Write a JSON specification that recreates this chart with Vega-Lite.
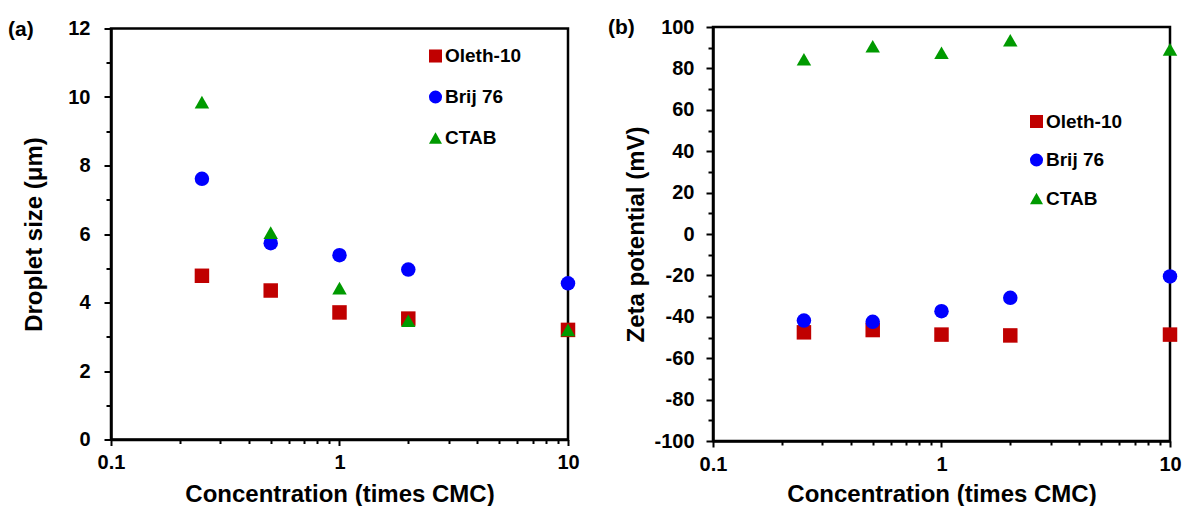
{
  "$schema": "https://vega.github.io/schema/vega-lite/v6.json",
  "background": "white",
  "padding": {"left": 6, "top": 15, "right": 5, "bottom": 0},
  "bounds": "flush",
  "spacing": 145,
  "center": true,
  "config": {
    "font": "Liberation Sans",
    "view": {"stroke": "black", "strokeWidth": 2.5},
    "axis": {
      "grid": false,
      "domainColor": "black",
      "domainWidth": 2.5,
      "tickColor": "black",
      "tickWidth": 2,
      "labelFont": "Liberation Sans",
      "labelFontSize": 20,
      "labelFontWeight": "bold",
      "labelColor": "black",
      "titleFont": "Liberation Sans",
      "titleFontSize": 24,
      "titleFontWeight": "bold",
      "titleColor": "black"
    },
    "legend": {
      "orient": "none",
      "title": null,
      "padding": 0,
      "labelFont": "Liberation Sans",
      "labelFontSize": 19,
      "labelFontWeight": "bold",
      "labelColor": "black",
      "symbolSize": 170,
      "symbolStrokeWidth": 0,
      "symbolOpacity": 1,
      "labelOffset": 0
    },
    "title": {
      "font": "Liberation Sans",
      "fontSize": 21,
      "fontWeight": "bold",
      "color": "black",
      "anchor": "start",
      "frame": "group",
      "orient": "top",
      "offset": 0,
      "baseline": "middle"
    }
  },
  "datasets": {
    "a": [
      {"conc": 0.25, "value": 4.78, "series": "Oleth-10"},
      {"conc": 0.5, "value": 4.35, "series": "Oleth-10"},
      {"conc": 1, "value": 3.71, "series": "Oleth-10"},
      {"conc": 2, "value": 3.53, "series": "Oleth-10"},
      {"conc": 10, "value": 3.2, "series": "Oleth-10"},
      {"conc": 0.25, "value": 7.61, "series": "Brij 76"},
      {"conc": 0.5, "value": 5.73, "series": "Brij 76"},
      {"conc": 1, "value": 5.38, "series": "Brij 76"},
      {"conc": 2, "value": 4.96, "series": "Brij 76"},
      {"conc": 10, "value": 4.56, "series": "Brij 76"},
      {"conc": 0.25, "value": 9.85, "series": "CTAB"},
      {"conc": 0.5, "value": 6.04, "series": "CTAB"},
      {"conc": 1, "value": 4.42, "series": "CTAB"},
      {"conc": 2, "value": 3.47, "series": "CTAB"},
      {"conc": 10, "value": 3.2, "series": "CTAB"}
    ],
    "b": [
      {"conc": 0.25, "value": -47.5, "series": "Oleth-10"},
      {"conc": 0.5, "value": -46.4, "series": "Oleth-10"},
      {"conc": 1, "value": -48.6, "series": "Oleth-10"},
      {"conc": 2, "value": -49.0, "series": "Oleth-10"},
      {"conc": 10, "value": -48.6, "series": "Oleth-10"},
      {"conc": 0.25, "value": -41.8, "series": "Brij 76"},
      {"conc": 0.5, "value": -42.4, "series": "Brij 76"},
      {"conc": 1, "value": -37.3, "series": "Brij 76"},
      {"conc": 2, "value": -30.8, "series": "Brij 76"},
      {"conc": 10, "value": -20.5, "series": "Brij 76"},
      {"conc": 0.25, "value": 84.4, "series": "CTAB"},
      {"conc": 0.5, "value": 90.7, "series": "CTAB"},
      {"conc": 1, "value": 87.6, "series": "CTAB"},
      {"conc": 2, "value": 93.6, "series": "CTAB"},
      {"conc": 10, "value": 89.2, "series": "CTAB"}
    ]
  },
  "resolve": {
    "scale": {"x": "independent", "y": "independent"},
    "axis": {"x": "independent", "y": "independent"},
    "legend": {"color": "independent", "shape": "independent"}
  },
  "hconcat": [
    {
      "width": 457,
      "height": 411,
      "title": {"text": "(a)", "dx": -103, "dy": 25},
      "data": {"name": "a"},
      "mark": {"type": "point", "filled": true, "opacity": 1, "size": 210, "strokeWidth": 0},
      "encoding": {
        "x": {
          "field": "conc", "type": "quantitative",
          "scale": {"type": "log", "domain": [0.1, 10], "nice": false},
          "axis": {
            "title": "Concentration (times CMC)",
            "values": [0.1, 0.2, 0.3, 0.4, 0.5, 0.6, 0.7, 0.8, 0.9, 1, 2, 3, 4, 5, 6, 7, 8, 9, 10],
            "labelExpr": "datum.value == 0.1 ? '0.1' : datum.value == 1 ? '1' : datum.value == 10 ? '10' : ''",
            "tickSize": {"condition": {"test": "datum.value == 0.1 || datum.value == 1 || datum.value == 10", "value": 6}, "value": 4},
            "labelPadding": 7,
            "titlePadding": 10,
            "labelFlush": false,
            "labelOverlap": false
          }
        },
        "y": {
          "field": "value", "type": "quantitative",
          "scale": {"domain": [0, 12], "nice": false, "zero": false},
          "axis": {
            "title": "Droplet size (μm)",
            "values": [0, 1, 2, 3, 4, 5, 6, 7, 8, 9, 10, 11, 12],
            "labelExpr": "datum.value % 2 == 0 ? datum.label : ''",
            "tickSize": {"condition": {"test": "datum.value % 2 == 0", "value": 7}, "value": 5},
            "labelPadding": 14,
            "titlePadding": 21,
            "labelOverlap": false,
            "labelFlush": false
          }
        },
        "color": {
          "field": "series", "type": "nominal",
          "scale": {"domain": ["Oleth-10", "Brij 76", "CTAB"], "range": ["#C00000", "#0000FF", "#009A00"]},
          "legend": {"legendX": 315, "legendY": 18, "rowPadding": 21}
        },
        "shape": {
          "field": "series", "type": "nominal",
          "scale": {"domain": ["Oleth-10", "Brij 76", "CTAB"], "range": ["square", "circle", "triangle-up"]},
          "legend": {"legendX": 315, "legendY": 18, "rowPadding": 21}
        }
      }
    },
    {
      "width": 457,
      "height": 414,
      "title": {"text": "(b)", "dx": -105, "dy": 25},
      "data": {"name": "b"},
      "mark": {"type": "point", "filled": true, "opacity": 1, "size": 210, "strokeWidth": 0},
      "encoding": {
        "x": {
          "field": "conc", "type": "quantitative",
          "scale": {"type": "log", "domain": [0.1, 10], "nice": false},
          "axis": {
            "title": "Concentration (times CMC)",
            "values": [0.1, 0.2, 0.3, 0.4, 0.5, 0.6, 0.7, 0.8, 0.9, 1, 2, 3, 4, 5, 6, 7, 8, 9, 10],
            "labelExpr": "datum.value == 0.1 ? '0.1' : datum.value == 1 ? '1' : datum.value == 10 ? '10' : ''",
            "tickSize": {"condition": {"test": "datum.value == 0.1 || datum.value == 1 || datum.value == 10", "value": 6}, "value": 4},
            "labelPadding": 7,
            "titlePadding": 8,
            "labelFlush": false,
            "labelOverlap": false
          }
        },
        "y": {
          "field": "value", "type": "quantitative",
          "scale": {"domain": [-100, 100], "nice": false, "zero": false},
          "axis": {
            "title": "Zeta potential (mV)",
            "values": [-100, -90, -80, -70, -60, -50, -40, -30, -20, -10, 0, 10, 20, 30, 40, 50, 60, 70, 80, 90, 100],
            "labelExpr": "datum.value % 20 == 0 ? replace(datum.label, '−', '-') : ''",
            "tickSize": {"condition": {"test": "datum.value % 20 == 0", "value": 7}, "value": 5},
            "labelPadding": 12,
            "titlePadding": 5,
            "labelOverlap": false,
            "labelFlush": false
          }
        },
        "color": {
          "field": "series", "type": "nominal",
          "scale": {"domain": ["Oleth-10", "Brij 76", "CTAB"], "range": ["#C00000", "#0000FF", "#009A00"]},
          "legend": {"legendX": 314, "legendY": 85, "rowPadding": 18.5}
        },
        "shape": {
          "field": "series", "type": "nominal",
          "scale": {"domain": ["Oleth-10", "Brij 76", "CTAB"], "range": ["square", "circle", "triangle-up"]},
          "legend": {"legendX": 314, "legendY": 85, "rowPadding": 18.5}
        }
      }
    }
  ]
}
